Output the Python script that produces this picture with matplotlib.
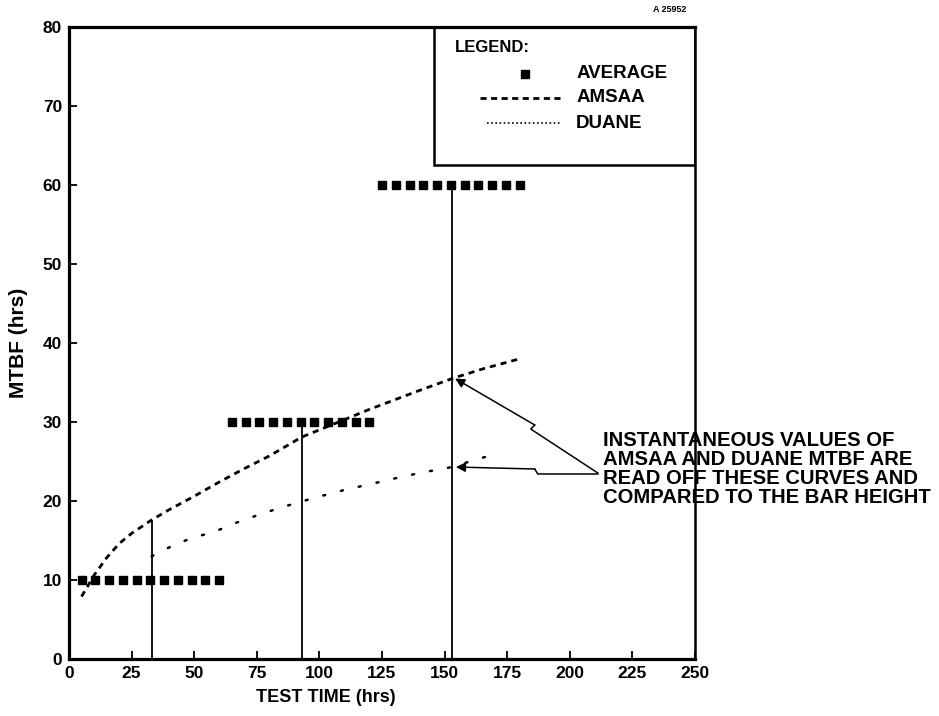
import numpy as np
import matplotlib
matplotlib.use("Agg")
import matplotlib.pyplot as plt
from matplotlib.patches import Rectangle

plt.rcParams['font.family'] = ['Liberation Sans', 'DejaVu Sans']
plt.rcParams['font.weight'] = 'bold'

# ---------------- data ----------------
# Average MTBF bars (test interval start, end, average MTBF)
bar_start = [5, 65, 125]
bar_end = [60, 120, 180]
bar_mtbf = [10, 30, 60]
squares_per_bar = 11

# read-off times and the heights of the vertical lines
read_times = [33, 93, 153]
read_heights = [17.6, 30, 60]

# AMSAA curve
amsaa_t = [5, 8, 10, 15, 20, 25, 33, 40, 50, 60, 70, 80, 93, 100, 110, 120, 130, 140, 153, 165, 180]
amsaa_m = [7.9, 9.5, 10.6, 12.8, 14.6, 15.9, 17.6, 18.9, 20.6, 22.4, 24.1, 25.7, 28.1, 29.0, 30.3,
           31.6, 32.8, 34.0, 35.5, 36.7, 38.0]

# Duane curve
duane_t = [33, 43, 50, 58, 68, 78, 86, 98, 110, 124, 132, 141, 153, 164, 172]
duane_m = [13.0, 14.6, 15.4, 16.1, 17.4, 18.5, 19.3, 20.4, 21.4, 22.4, 23.0, 23.6, 24.3, 25.4, 26.0]

x_ticks = [0, 25, 50, 75, 100, 125, 150, 175, 200, 225, 250]
y_ticks = [0, 10, 20, 30, 40, 50, 60, 70, 80]

note = ("INSTANTANEOUS VALUES OF\nAMSAA AND DUANE MTBF ARE\n"
        "READ OFF THESE CURVES AND\nCOMPARED TO THE BAR HEIGHT")

# ---------------- figure ----------------
fig = plt.figure(figsize=(9.39, 7.16), dpi=100)
ax = fig.add_axes([69/939, 1-659/716, (695-69)/939, (659-27)/716])
ax.set_xlim(0, 250)
ax.set_ylim(0, 80)

# average bars as rows of squares
for s, e, m in zip(bar_start, bar_end, bar_mtbf):
    xs = np.linspace(s, e, squares_per_bar)
    ax.plot(xs, np.full_like(xs, m, dtype=float), ls='none', marker='s', ms=5.5,
            color='black', zorder=3)

# vertical read-off lines
ax.vlines(read_times, 0, read_heights, colors='black', lw=1.3, zorder=2)

# AMSAA dashed curve
ax.plot(amsaa_t, amsaa_m, color='black', lw=2.0, ls=(0, (2.2, 1.8)), zorder=3)
# Duane dotted curve
ax.plot(duane_t, duane_m, color='black', lw=1.8, ls=(0, (0.8, 6.5)),
        dash_capstyle='round', zorder=3)

# spines and ticks
for side in ['left', 'bottom', 'top']:
    ax.spines[side].set_linewidth(2.3)
ax.spines['right'].set_linewidth(1.8)
ax.set_xticks(x_ticks)
ax.set_yticks(y_ticks)
ax.tick_params(direction='in', length=6, width=1.3, labelsize=12.5, pad=5)
for lab in ax.get_xticklabels() + ax.get_yticklabels():
    lab.set_fontweight('bold')

ax.set_xlabel("TEST TIME (hrs)", fontsize=13, fontweight='bold')
ax.xaxis.set_label_coords(0.41, -0.047)
ax.set_ylabel("MTBF (hrs)", fontsize=15, fontweight='bold')
ax.yaxis.set_label_coords(-0.066, 0.5)

# legend box (drawn manually)
ax.add_patch(Rectangle((0.583, 0.782), 0.417, 0.218, transform=ax.transAxes,
                       fill=False, lw=1.8, ec='black', zorder=4))
ax.text(0.617, 0.968, "LEGEND:", transform=ax.transAxes, fontsize=12, fontweight='bold',
        va='center', ha='left')
ax.plot([0.728], [0.926], transform=ax.transAxes, ls='none', marker='s', ms=6, color='black')
ax.text(0.810, 0.926, "AVERAGE", transform=ax.transAxes, fontsize=13.5, fontweight='bold',
        va='center', ha='left')
ax.plot([0.657, 0.784], [0.888, 0.888], transform=ax.transAxes, color='black', lw=2.0,
        ls=(0, (2.2, 1.6)))
ax.text(0.810, 0.888, "AMSAA", transform=ax.transAxes, fontsize=13.5, fontweight='bold',
        va='center', ha='left')
ax.plot([0.668, 0.784], [0.848, 0.848], transform=ax.transAxes, color='black', lw=1.2,
        ls=(0, (1, 1.5)))
ax.text(0.810, 0.848, "DUANE", transform=ax.transAxes, fontsize=13.5, fontweight='bold',
        va='center', ha='left')

# annotation text
fig.text(603/939, 1-431/716, note, fontsize=14.6, fontweight='bold', va='top', ha='left',
         linespacing=1.0)

# arrows with small break marks
amsaa_tip = (read_times[2] + 1.2, amsaa_m[amsaa_t.index(read_times[2])])
duane_tip = (read_times[2] + 1.5, duane_m[duane_t.index(read_times[2])])
ax.plot([211.2, 184.4, 186.0], [23.54, 29.11, 29.62], color='black', lw=1.1,
        clip_on=False, solid_joinstyle='miter')
ax.annotate("", xy=amsaa_tip, xytext=(186.0, 29.62),
            arrowprops=dict(arrowstyle='-|>', color='black', lw=1.1, mutation_scale=14,
                            shrinkA=0, shrinkB=0))
ax.plot([211.2, 187.2, 186.0], [23.42, 23.42, 24.05], color='black', lw=1.1,
        clip_on=False)
ax.annotate("", xy=duane_tip, xytext=(186.0, 24.05),
            arrowprops=dict(arrowstyle='-|>', color='black', lw=1.1, mutation_scale=14,
                            shrinkA=0, shrinkB=0))

fig.text(686/939, 1-10/716, "A 25952", fontsize=6.5, ha='right', va='center')

fig.savefig("out.png", dpi=100)
